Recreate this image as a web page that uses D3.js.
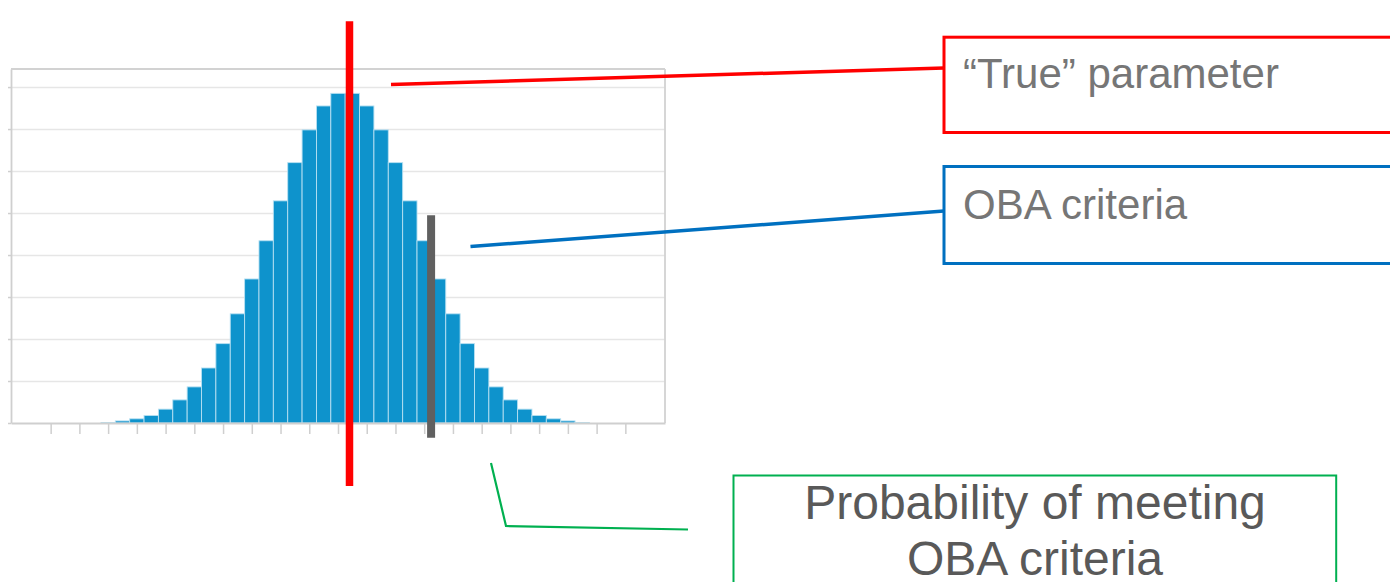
<!DOCTYPE html>
<html>
<head>
<meta charset="utf-8">
<script src="https://cdn.jsdelivr.net/npm/d3@7"></script>
<style>
  html, body { margin: 0; padding: 0; background: #fff; }
  svg { display: block; }
  text { font-family: "Liberation Sans", Arial, sans-serif; }
</style>
</head>
<body>
<script>
// ---------------- data ----------------
const binCenters = [2, 2.5, 3, 3.5, 4, 4.5, 5, 5.5, 6, 6.5, 7, 7.5, 8, 8.5, 9, 9.5,
                    10, 10.5, 11, 11.5, 12, 12.5, 13, 13.5, 14, 14.5, 15, 15.5, 16, 16.5, 17, 17.5, 18, 18.5];
const counts = [1, 5, 10, 18, 33, 55, 86, 131, 189, 260, 343, 434, 529, 620, 698, 755,
                785, 785, 755, 698, 620, 529, 434, 343, 260, 189, 131, 86, 55, 33, 18, 10, 5, 1];
const binWidth = 0.5;
const xTicks = [0, 1, 2, 3, 4, 5, 6, 7, 8, 9, 10, 11, 12, 13, 14, 15, 16, 17, 18, 19, 20];
const yTicks = [0, 100, 200, 300, 400, 500, 600, 700, 800];
const xDomain = [-1.38, 21.38];
const yDomain = [0, 843];

const trueParameter = 10.4;          // red line position
const trueLineRange = [957, -150];    // red line extent (y units)
const obaCriteria = 13.24;           // grey marker position
const obaRange = [495, -35];          // grey marker extent (y units)

const labels = {
  truth: "\u201CTrue\u201D parameter",
  oba: "OBA criteria",
  prob: ["Probability of meeting", "OBA criteria"]
};

// ---------------- layout ----------------
const W = 1390, H = 582;
const plot = { left: 11, right: 665, top: 69, bottom: 423 };

const svg = d3.select("body").append("svg").attr("width", W).attr("height", H);
svg.append("rect").attr("width", W).attr("height", H).attr("fill", "#fff");

const x = d3.scaleLinear().domain(xDomain).range([plot.left, plot.right]);
const y = d3.scaleLinear().domain(yDomain).range([plot.bottom, plot.top]);

// gridlines
const grid = svg.append("g").attr("transform", `translate(${plot.left},0)`)
  .call(d3.axisLeft(y).tickValues(yTicks.slice(1)).tickSize(-(plot.right - plot.left)).tickFormat(""));
grid.select(".domain").remove();
grid.selectAll("line").attr("stroke", "#e6e6e6").attr("stroke-width", 1.6);

// left mini ticks + left border
const yAxis = svg.append("g").attr("transform", `translate(${plot.left},0)`)
  .call(d3.axisLeft(y).tickValues(yTicks).tickSize(3).tickSizeOuter(0).tickFormat(""));
yAxis.select(".domain").attr("stroke", "#cfcfcf").attr("stroke-width", 1.8);
yAxis.selectAll(".tick line").attr("stroke", "#cfcfcf").attr("stroke-width", 1.5);

// top & right border
svg.append("line").attr("x1", plot.left).attr("x2", plot.right)
  .attr("y1", y(yDomain[1])).attr("y2", y(yDomain[1]))
  .attr("stroke", "#d2d2d2").attr("stroke-width", 1.8);
svg.append("line").attr("x1", plot.right).attr("x2", plot.right)
  .attr("y1", y(yDomain[1])).attr("y2", y(0))
  .attr("stroke", "#d2d2d2").attr("stroke-width", 1.8);

// bars
svg.append("g").selectAll("rect").data(binCenters).join("rect")
  .attr("x", (d) => x(d - binWidth / 2))
  .attr("width", (d) => x(d + binWidth / 2) - x(d - binWidth / 2))
  .attr("y", (d, i) => y(counts[i]))
  .attr("height", (d, i) => y(0) - y(counts[i]))
  .attr("fill", "#0e93cc")
  .attr("stroke", "#b7e0f2")
  .attr("stroke-width", 0.9);

// bottom axis
const xAxis = svg.append("g").attr("transform", `translate(0,${plot.bottom})`)
  .call(d3.axisBottom(x).tickValues(xTicks).tickSize(11).tickSizeOuter(0).tickFormat(""));
xAxis.select(".domain").attr("stroke", "#cfcfcf").attr("stroke-width", 1.8);
xAxis.selectAll(".tick line").attr("stroke", "#cfcfcf").attr("stroke-width", 1.5);

// true parameter red line
svg.append("line")
  .attr("x1", x(trueParameter)).attr("x2", x(trueParameter))
  .attr("y1", y(trueLineRange[0])).attr("y2", y(trueLineRange[1]))
  .attr("stroke", "#ff0000").attr("stroke-width", 7.5);

// OBA criteria grey marker
svg.append("line")
  .attr("x1", x(obaCriteria)).attr("x2", x(obaCriteria))
  .attr("y1", y(obaRange[0])).attr("y2", y(obaRange[1]))
  .attr("stroke", "#606060").attr("stroke-width", 8);

// ---------------- callouts ----------------
// red
svg.append("line").attr("x1", 391).attr("y1", 84.5).attr("x2", 944).attr("y2", 68)
  .attr("stroke", "#ff0000").attr("stroke-width", 3.5);
svg.append("rect").attr("x", 944).attr("y", 37.2).attr("width", 520).attr("height", 95.3)
  .attr("fill", "#fff").attr("stroke", "#ff0000").attr("stroke-width", 3);
svg.append("text").attr("x", 963).attr("y", 87.5).attr("font-size", 42)
  .attr("fill", "#767676").text(labels.truth);

// blue
svg.append("line").attr("x1", 470.5).attr("y1", 246.5).attr("x2", 944).attr("y2", 211)
  .attr("stroke", "#0070c0").attr("stroke-width", 3.5);
svg.append("rect").attr("x", 944).attr("y", 166.5).attr("width", 520).attr("height", 97)
  .attr("fill", "#fff").attr("stroke", "#0070c0").attr("stroke-width", 3);
svg.append("text").attr("x", 963).attr("y", 218.5).attr("font-size", 42)
  .attr("fill", "#767676").text(labels.oba);

// green
svg.append("polyline").attr("points", "491,463 506,526 688,529.5")
  .attr("fill", "none").attr("stroke", "#00b050").attr("stroke-width", 2.2);
svg.append("rect").attr("x", 733.5).attr("y", 475.5).attr("width", 602.7).attr("height", 200)
  .attr("fill", "#fff").attr("stroke", "#00b050").attr("stroke-width", 2);
svg.append("text").attr("x", 1035).attr("text-anchor", "middle").attr("font-size", 48)
  .attr("fill", "#595959")
  .selectAll("tspan").data(labels.prob).join("tspan")
  .attr("x", 1035).attr("y", (d, i) => 519 + i * 56).text((d) => d);
</script>
</body>
</html>
